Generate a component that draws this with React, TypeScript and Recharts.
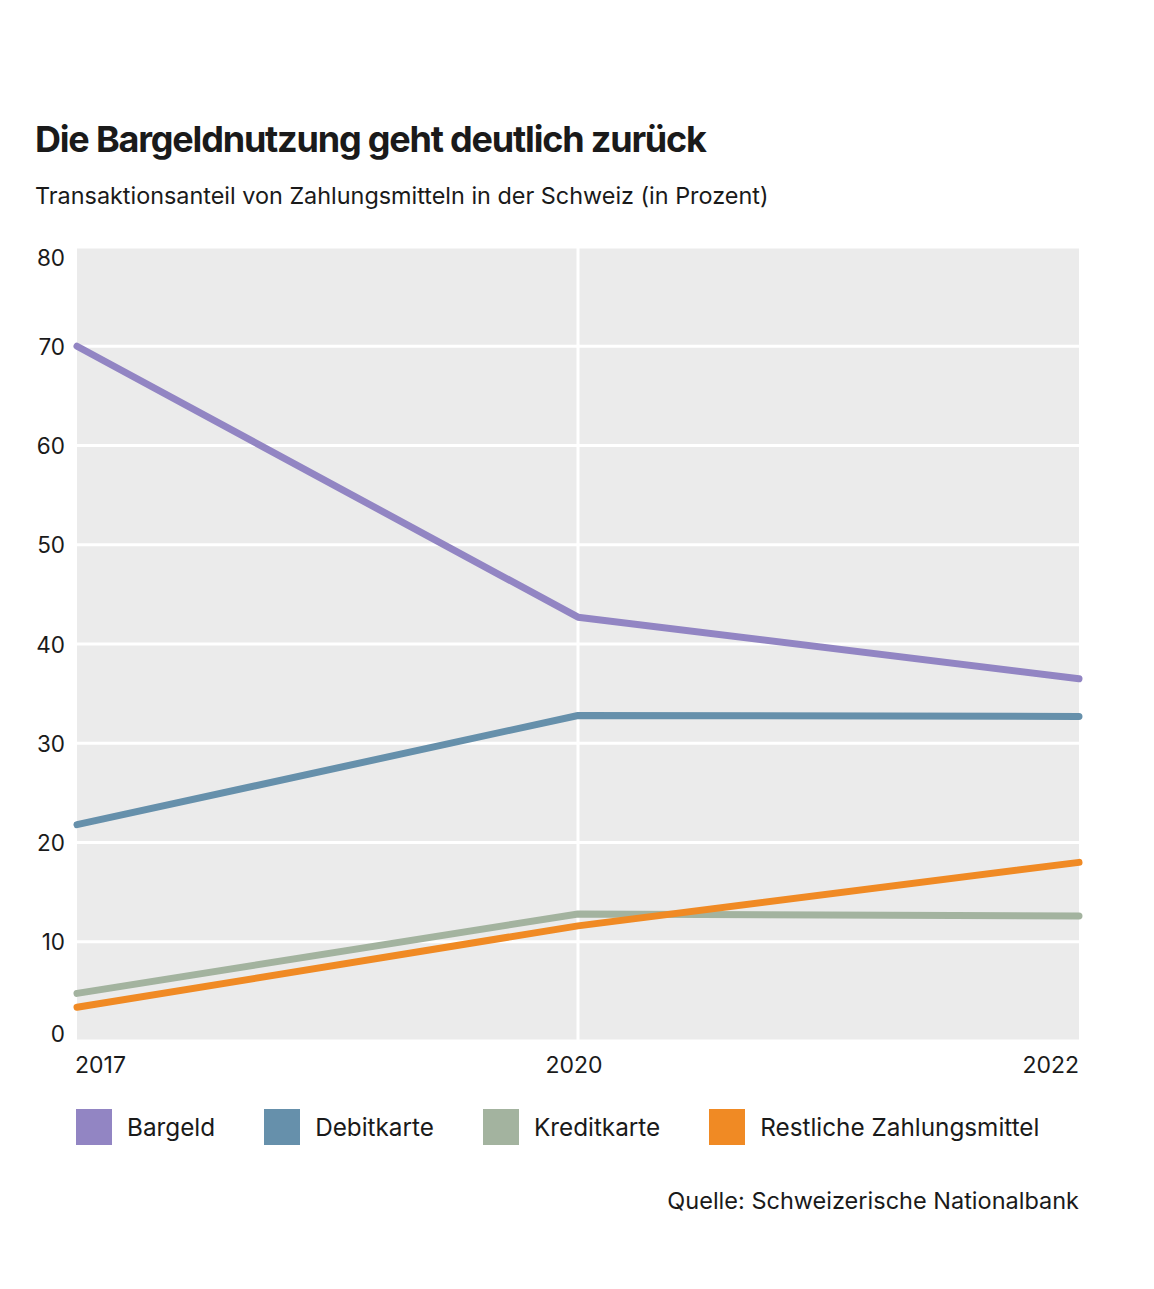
import React from 'react';
import { LineChart, Line, XAxis, YAxis, CartesianGrid } from 'recharts';

const years = ['2017', '2020', '2022'];
const bargeld = [70, 42.7, 36.5];
const debitkarte = [21.8, 32.8, 32.7];
const kreditkarte = [4.8, 12.8, 12.6];
const restliche = [3.4, 11.6, 18.0];
const yTicks = [0, 10, 20, 30, 40, 50, 60, 70, 80];

const seriesDefs = [
  { key: 'bargeld', name: 'Bargeld', color: '#9285c3' },
  { key: 'debitkarte', name: 'Debitkarte', color: '#6690ab' },
  { key: 'kreditkarte', name: 'Kreditkarte', color: '#a3b39f' },
  { key: 'restliche', name: 'Restliche Zahlungsmittel', color: '#f08a24' },
];

const data = years.map((year, i) => ({
  year,
  bargeld: bargeld[i],
  debitkarte: debitkarte[i],
  kreditkarte: kreditkarte[i],
  restliche: restliche[i],
}));

const FONT = 'Inter, "Noto Sans", sans-serif';
const TEXT = '#1a1a1a';

const YTick = (props: any) => {
  const { x, y, payload } = props;
  let dy = 0;
  if (payload.value === 80) dy = 10;
  if (payload.value === 0) dy = -8;
  return (
    <text x={x - 4} y={y + dy} textAnchor="end" dominantBaseline="central" fontSize={22.5} fill={TEXT} fontFamily={FONT}>
      {payload.value}
    </text>
  );
};

const XTick = (props: any) => {
  const { x, y, payload, index } = props;
  const anchor = index === 0 ? 'start' : index === years.length - 1 ? 'end' : 'middle';
  const dx = index === 0 ? -2 : index === years.length - 1 ? 0 : -4;
  return (
    <text x={x + dx} y={y + 16} textAnchor={anchor} dominantBaseline="central" fontSize={23} fill={TEXT} fontFamily={FONT}>
      {payload.value}
    </text>
  );
};

export default function App() {
  return (
    <div style={{ position: 'absolute', left: 0, top: 0, width: 1154, height: 1289, background: '#fff' }}>
      <div style={{ position: 'absolute', left: 35, top: 117, fontFamily: FONT, fontWeight: 700, fontSize: 36, letterSpacing: -1.2, color: TEXT, whiteSpace: 'nowrap' }}>
        Die Bargeldnutzung geht deutlich zurück
      </div>
      <div style={{ position: 'absolute', left: 35, top: 181, fontFamily: FONT, fontSize: 23.4, color: TEXT, whiteSpace: 'nowrap' }}>
        Transaktionsanteil von Zahlungsmitteln in der Schweiz (in Prozent)
      </div>
      <div style={{ position: 'absolute', left: 0, top: 0 }}>
        <LineChart width={1154} height={1289} data={data} margin={{ top: 247, right: 75, left: 0, bottom: 218 }}>
          <CartesianGrid
            fill="#ebebeb"
            stroke="#ffffff"
            strokeWidth={3}
            verticalCoordinatesGenerator={({ offset }: any) => [offset.left + offset.width / 2]}
          />
          <XAxis dataKey="year" height={30} axisLine={false} tickLine={false} tick={<XTick />} interval={0} />
          <YAxis
            domain={[0, 80]}
            ticks={yTicks}
            width={77}
            axisLine={false}
            tickLine={false}
            tick={<YTick />}
            interval={0}
          />
          {seriesDefs.map((s) => (
            <Line
              key={s.key}
              type="linear"
              dataKey={s.key}
              name={s.name}
              stroke={s.color}
              strokeWidth={7}
              strokeLinecap="round"
              strokeLinejoin="round"
              dot={false}
              activeDot={false}
              isAnimationActive={false}
            />
          ))}
        </LineChart>
      </div>
      <div style={{ position: 'absolute', left: 76, top: 1109, display: 'flex', alignItems: 'center', fontFamily: FONT, fontSize: 24.3, color: TEXT, whiteSpace: 'nowrap' }}>
        {seriesDefs.map((s) => (
          <div key={s.key} style={{ display: 'flex', alignItems: 'center', marginRight: 49 }}>
            <div style={{ width: 36, height: 36, background: s.color, marginRight: 15 }} />
            <span>{s.name}</span>
          </div>
        ))}
      </div>
      <div style={{ position: 'absolute', right: 1154 - 1079, top: 1186, fontFamily: FONT, fontSize: 23.5, color: TEXT, whiteSpace: 'nowrap' }}>
        Quelle: Schweizerische Nationalbank
      </div>
    </div>
  );
}
